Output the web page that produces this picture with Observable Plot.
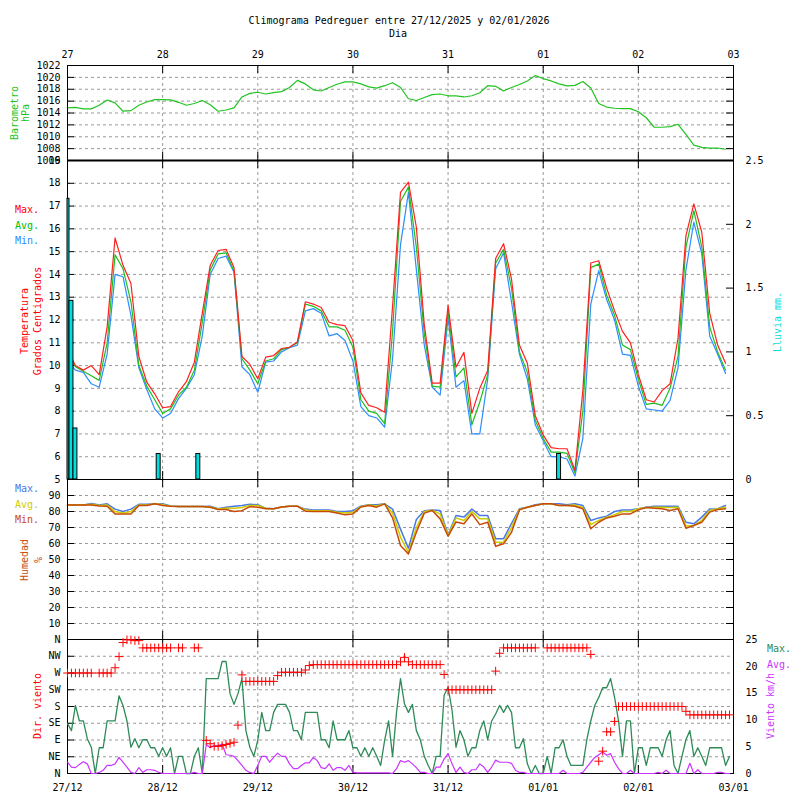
<!DOCTYPE html>
<html><head><meta charset="utf-8">
<script src="https://cdn.jsdelivr.net/npm/d3@7"></script>
<script src="https://cdn.jsdelivr.net/npm/@observablehq/plot@0.6"></script>
<style>
body{margin:0;background:#fff;}
#chart{position:relative;width:800px;height:800px;background:#fff;}
#chart svg{position:absolute;left:0;top:0;}
</style></head><body><div id="chart"></div>
<script>
// ---------- DATA ----------
const dayTicks = [0, 24, 48, 72, 96, 120, 144, 168];
const topLabels = ["27","28","29","30","31","01","02","03"];
const bottomLabels = ["27/12","28/12","29/12","30/12","31/12","01/01","02/01","03/01"];
const stepHours = 2; // sampling of pressure / temperature / humidity series

const pressure = [1014.85,1014.95,1014.7,1014.7,1015.3,1016.2,1015.7,1014.3,1014.4,1015.3,
1015.85,1016.25,1016.25,1016.2,1015.8,1015.3,1015.6,1016.1,1015.4,1014.3,
1014.5,1014.85,1016.7,1017.3,1017.5,1017.2,1017.44,1017.6,1018.3,1019.5,
1018.9,1017.9,1017.7,1018.3,1018.85,1019.25,1019.25,1018.9,1018.4,1018.2,
1018.6,1019.1,1018.3,1016.4,1016.1,1016.6,1017.1,1017.2,1016.9,1016.87,
1016.7,1016.9,1017.4,1018.6,1018.5,1017.7,1018.3,1018.8,1019.4,1020.3,
1019.8,1019.4,1018.9,1018.56,1018.65,1019.3,1018.2,1015.6,1015.0,1014.8,
1014.73,1014.73,1014.2,1013.2,1011.6,1011.6,1011.7,1012.1,1010.4,1008.6,
1008.2,1008.1,1008.1,1007.9];

const tempMax = [10.7,10.0,9.8,10.0,9.6,11.7,15.6,14.4,13.6,10.4,
9.27,8.76,8.15,8.2,8.85,9.3,10.15,12.3,14.4,15.05,
15.1,14.3,10.4,10.05,9.42,10.37,10.44,10.75,10.8,11.05,
12.8,12.7,12.55,11.9,11.8,11.75,11.1,8.8,8.25,8.15,
7.95,12.6,17.6,18.05,16.07,11.8,9.23,9.23,12.64,9.93,
10.58,7.9,9.0,9.78,14.7,15.35,13.8,10.9,10.1,7.8,
6.95,6.4,6.35,6.35,5.4,8.9,14.5,14.6,13.4,12.4,
11.5,11.0,9.6,8.5,8.4,8.9,9.2,11.2,15.7,17.1,
15.85,12.3,10.9,10.1];
const tempAvg = [10.45,9.95,9.75,9.55,9.35,11.0,14.86,14.25,12.8,10.0,
9.1,8.5,7.9,8.1,8.7,9.05,9.8,11.9,14.2,14.9,
14.95,14.15,10.3,9.8,9.2,10.2,10.3,10.7,10.8,11.0,
12.7,12.6,12.4,11.7,11.7,11.55,10.8,8.5,8.0,7.9,
7.45,11.5,17.2,17.83,15.2,11.4,9.1,9.05,12.4,9.5,
9.9,7.4,8.4,9.6,14.5,15.1,13.4,10.6,9.7,7.6,
6.8,6.2,6.2,6.15,5.3,8.0,14.3,14.45,13.1,12.2,
10.9,10.7,9.4,8.3,8.35,8.25,9.0,10.4,15.2,16.8,
15.2,11.7,10.6,9.8];
const tempMin = [10.2,9.8,9.7,9.2,9.05,10.5,14.0,13.9,12.2,9.9,
8.95,8.1,7.7,7.9,8.55,9.0,9.6,11.3,14.0,14.7,
14.8,14.1,9.95,9.6,8.83,10.15,10.2,10.6,10.78,10.9,
12.4,12.5,12.3,11.3,11.4,11.1,10.2,8.2,7.8,7.7,
7.3,10.3,15.3,17.6,14.2,10.9,9.05,8.7,12.1,9.05,
9.34,7.0,7.0,9.4,14.25,14.95,12.8,10.5,9.4,7.4,
6.7,6.0,6.0,5.9,5.15,6.8,12.7,14.17,12.9,12.0,
10.5,10.45,9.1,8.1,8.05,8.0,8.47,9.9,14.2,16.3,
14.9,11.3,10.5,9.65];

const rainHours = [0, 1, 2, 23, 33, 124];
const rainMm = [2.2, 1.4, 0.4, 0.2, 0.2, 0.2];

const humMax = [84,84,84,85,84,84.8,81.5,80,81.5,84.5,
84.5,84.8,84.8,83.5,83.1,83.1,83.1,83.1,83.3,81.8,
82.7,83.3,83.75,84.5,84.2,82,81.7,82.8,83.3,83.3,
81.5,81,81,81,80,80,80.5,83.3,84.2,84.2,
84.8,81.5,69,57,75,80.5,81,80.6,65.5,77.5,
76.5,81.5,77.5,77.5,63,63,72.5,81.7,82.7,84.2,
84.8,84.8,84.8,84.2,84.8,83.75,74.4,76,77.1,80,
81,81,81.7,82.7,83.3,83.3,83.3,83.3,73.3,72.3,
76.5,81.5,81.7,83.75];
const humAvg = [84,84,84,84.5,83.7,84,80,79,80,84,
84,84.8,84.3,83.3,83.1,83.1,83.1,83.1,82.8,81.5,
82,82.1,82.5,83.7,83.75,82,81.7,82.8,83.3,83.3,
81,80.5,80.5,80.5,79.5,79,79.5,83,84,83.5,
84.8,79,64,54.5,70,80,80.8,78.5,65,76,
74.4,80,75.4,75.4,60.8,60.8,70,81.3,82.7,83.7,
84.8,84.8,83.75,83.75,84,82.5,71.8,74.4,76.5,78,
80,80,81.7,82.5,82.7,82.7,82.5,82.7,71,71.25,
74.4,80.6,81.7,82.7];
const humMin = [84,84,84,84,83.5,83.3,78.5,78.5,78.5,83.7,
83.7,84.8,83.7,83.3,83.1,83.1,83.1,83.1,82.7,81.2,
81.3,80,80.5,83,82.7,81.7,81.7,82.8,83.3,83.3,
80.2,80,80,80,79,77.9,78.5,82.8,83.75,82.7,
84.8,76,58.75,53.5,67,79,80.6,75.4,64.5,73.5,
72.3,78.5,71.8,73.3,58.3,59.8,67,81,82.7,83.7,
84.8,84.8,83.75,83.75,83.3,81.7,69.2,73.3,76,77,
78.5,78.5,81,82.5,82,81.7,80.6,81.7,69.5,71.25,
73.3,79.6,81.3,81.7];

// hourly wind series (h = 0 .. 167)
const windMax = [9.3,8.0,12.7,9.8,9.8,6.5,4.9,0,4.8,4.8,
9.8,9.8,9.8,14.5,12.7,9.8,4.9,6.5,4.8,6.3,
6.3,4.8,4.8,3.2,4.8,3.2,4.8,0,3.2,3.2,
0,0,3.2,4.8,0,17.7,17.7,17.7,17.7,20.9,
20.9,14.9,12.9,14.9,17.7,8.0,4.9,3.2,6.2,11.4,
8.0,8.0,11.4,12.9,12.9,12.9,11.4,8.0,8.0,6.3,
11.4,11.4,11.4,11.4,6.3,6.3,4.8,9.8,6.3,6.3,
6.3,8.0,4.8,4.8,3.2,4.8,3.2,4.8,3.2,1.5,
6.2,9.8,3.2,11.4,17.7,13.0,11.4,12.9,8.0,6.3,
3.2,1.5,0,3.2,3.2,14.6,16.1,11.8,4.9,8.0,
6.3,3.2,4.8,4.8,8.0,9.8,6.3,9.8,11.1,12.7,
11.4,12.7,11.4,4.8,4.8,6.5,1.8,0,1.5,0,
0,3.2,0,4.8,4.8,6.3,3.2,1.5,1.5,1.5,
1.5,6.3,9.8,12.7,14.2,16.0,16.0,17.7,14.2,9.8,
3.2,9.8,9.8,0,4.8,4.8,1.5,4.8,4.8,4.8,
3.2,6.3,8.0,1.5,0,3.2,6.3,8.0,3.2,4.8,
3.2,1.5,4.8,4.8,4.8,4.8,1.5,3.2];
const windAvg = [2.1,1.2,1.1,1.7,2.2,1.8,0,0,0.2,0.6,
1.5,1.5,1.8,3.0,2.1,1.2,0.2,0,1.1,0.2,
0.7,0.7,0.6,0.2,0,0,0,0,0,0,
0,0,0.2,0,0,5.4,4.8,5.2,5.2,5.5,
3.5,3.4,3.2,2.4,1.5,0.6,0.2,0,1.5,3.2,
3.2,2.1,3.0,3.8,3.2,3.2,1.8,0.9,0.9,1.5,
2.0,2.0,3.0,2.4,1.1,0.9,1.8,0.6,1.1,1.1,
0.6,1.5,0.2,0.1,0.1,0.1,0.1,0.1,0.1,0.1,
0.1,0.1,0,0.9,2.4,2.1,2.4,1.8,1.1,0.2,
0.2,0,0,1.2,1.2,2.7,3.7,1.8,0.2,1.2,
0.2,0,0.7,0.7,1.8,1.2,0.2,1.2,2.5,2.1,
2.1,2.1,1.9,0.6,0.2,0.2,0,0,0,0,
0,0,0,0,0,0.6,0,0,0,0,
0.2,1.2,2.1,3.0,3.5,4.0,3.4,3.7,2.1,0.9,
0,0,0.6,0,0,0,0,0,0,0.2,
0,0.6,0,0,0,0,0,1.9,0,0.7,
0,0,0,0,0.2,0.2,0,0];
const windDir = [270,270,270,270,270,270,270,null,270,270,
270,270,284,314,352,359,359,357,357,337.5,
337.5,337.5,337.5,337.5,337.5,337.5,337.5,null,337.5,337.5,
null,null,337.5,337.5,null,89,80,73,73,75,
78,81,84,130,265,247.5,247.5,247.5,247.5,247.5,
247.5,247.5,247.5,263,272,272,272,272,272,272,
278,290,292.5,292.5,292.5,292.5,292.5,292.5,292.5,292.5,
292.5,292.5,292.5,292.5,292.5,292.5,292.5,292.5,292.5,292.5,
292.5,292.5,292.5,292.5,300,312,300,292.5,292.5,292.5,
292.5,292.5,292.5,292.5,292.5,266,225,225,225,225,
225,225,225,225,225,225,225,225,275,323,
337.5,337.5,337.5,337.5,337.5,337.5,337.5,337.5,337.5,null,
null,337.5,337.5,337.5,337.5,337.5,337.5,337.5,337.5,337.5,
337.5,337.5,320,null,33,60,112,112,140,180,
180,180,180,180,180,180,180,180,180,180,
180,180,180,180,180,180,167,157.5,157.5,157.5,
157.5,157.5,157.5,157.5,157.5,157.5,157.5,157.5];

const pressTicks = [1006,1008,1010,1012,1014,1016,1018,1020,1022];
const tempTicks = [5,6,7,8,9,10,11,12,13,14,15,16,17,18,19];
const rainTicks = [0,0.5,1,1.5,2,2.5];
const humTicks = [10,20,30,40,50,60,70,80,90];
const dirTicks = [0,45,90,135,180,225,270,315,360];
const dirLabels = ["N","NE","E","SE","S","SW","W","NW","N"];
const speedTicks = [0,5,10,15,20,25];

// ---------- LAYOUT ----------
const FONT = "'DejaVu Sans Mono', monospace";
const L = 67, R = 733, FW = R - L;
const P = {press:[65,160], temp:[160,479], hum:[479,639], wind:[639,773]};
const GRID = {stroke:"#9a9a9a", strokeDasharray:"3,3", strokeWidth:1};
const innerDays = dayTicks.slice(1, -1);

const s2 = arr => arr.map((v, i) => ({h: i * stepHours, v}));
const s1 = arr => arr.map((v, i) => ({h: i, v}));

function base(panel) {
  const [t, b] = P[panel];
  return {width: 800, height: 800, marginLeft: L, marginRight: 800 - R, marginTop: t, marginBottom: 800 - b,
    style: {fontFamily: FONT, fontSize: "10px", background: "transparent", overflow: "visible", color: "black"}};
}
function xOpt(axis) {
  const o = {domain: [0, 168], axis: axis || null, ticks: dayTicks, tickSize: 0, label: null};
  if (axis === "top") { o.tickFormat = d => topLabels[dayTicks.indexOf(d)]; o.tickPadding = 8; }
  if (axis === "bottom") { o.tickFormat = d => bottomLabels[dayTicks.indexOf(d)]; o.tickPadding = 10; }
  return o;
}
function dayMarks(panel) {
  const h = P[panel][1] - P[panel][0];
  return [
    Plot.ruleX(innerDays, {x: d => d, ...GRID}),
    Plot.tickX(innerDays, {x: d => d, insetBottom: h - 8, stroke: "black"}),
    Plot.tickX(innerDays, {x: d => d, insetTop: h - 8, stroke: "black"})
  ];
}
const tickL = vals => Plot.tickY(vals, {y: d => d, insetRight: FW - 7, stroke: "black"});
const tickR = vals => Plot.tickY(vals, {y: d => d, insetLeft: FW - 7, stroke: "black"});

const chart = document.getElementById("chart");
const add = svg => chart.appendChild(svg);

// Barometer
add(Plot.plot({
  ...base("press"),
  x: xOpt("top"),
  y: {domain: [1006, 1022], axis: "left", ticks: pressTicks, tickSize: 0, tickPadding: 7, label: null, tickFormat: d => String(d)},
  marks: [
    Plot.ruleY(pressTicks.slice(1, -1), GRID),
    ...dayMarks("press"),
    Plot.line(s2(pressure), {x: "h", y: "v", stroke: "#22c322", strokeWidth: 1.2}),
    tickL(pressTicks), tickR(pressTicks),
    Plot.frame({stroke: "black"})
  ]
}));

// Temperature
add(Plot.plot({
  ...base("temp"),
  x: xOpt(null),
  y: {domain: [5, 19], axis: "left", ticks: tempTicks, tickSize: 0, tickPadding: 7, label: null, tickFormat: d => String(d)},
  marks: [
    Plot.ruleY(tempTicks.slice(1, -1), GRID),
    ...dayMarks("temp"),
    Plot.line(s2(tempMin), {x: "h", y: "v", stroke: "#2d8cff", strokeWidth: 1.2}),
    Plot.line(s2(tempAvg), {x: "h", y: "v", stroke: "#1fbf1f", strokeWidth: 1.2}),
    Plot.line(s2(tempMax), {x: "h", y: "v", stroke: "#ff2020", strokeWidth: 1.2}),
    tickL(tempTicks),
    Plot.frame({stroke: "black"})
  ]
}));

// Rain (right axis, same frame as temperature)
const rainData = rainHours.map((h, i) => ({h, v: rainMm[i]}));
add(Plot.plot({
  ...base("temp"),
  x: xOpt(null),
  y: {domain: [0, 2.5], axis: "right", ticks: rainTicks, tickSize: 0, tickPadding: 12, tickFormat: d => String(d), label: null},
  marks: [
    Plot.rectY(rainData, {x1: d => Math.max(0, d.h - 0.5), x2: d => d.h + 0.5, y1: 0, y2: "v", fill: "#00dede", stroke: "black", strokeWidth: 1}),
    tickR(rainTicks),
    Plot.ruleY([d3.max(rainTicks)], {stroke: "black", strokeWidth: 2.2})
  ]
}));

// Humidity
add(Plot.plot({
  ...base("hum"),
  x: xOpt(null),
  y: {domain: [0, 100], axis: "left", ticks: humTicks, tickSize: 0, tickPadding: 7, label: null, tickFormat: d => String(d)},
  marks: [
    Plot.ruleY(humTicks, GRID),
    ...dayMarks("hum"),
    Plot.line(s2(humMax), {x: "h", y: "v", stroke: "#4a78e6", strokeWidth: 1.5}),
    Plot.line(s2(humAvg), {x: "h", y: "v", stroke: "#cccc00", strokeWidth: 1.5}),
    Plot.line(s2(humMin), {x: "h", y: "v", stroke: "#c84a08", strokeWidth: 1.5}),
    tickL(humTicks), tickR(humTicks),
    Plot.frame({stroke: "black"})
  ]
}));

// Wind direction
add(Plot.plot({
  ...base("wind"),
  x: xOpt("bottom"),
  y: {domain: [0, 360], axis: "left", ticks: dirTicks, tickSize: 0, tickPadding: 7, label: null,
      tickFormat: d => dirLabels[dirTicks.indexOf(d)]},
  marks: [
    Plot.ruleY(dirTicks.slice(1, -1), GRID),
    ...dayMarks("wind"),
    tickL(dirTicks),
    Plot.frame({stroke: "black"})
  ]
}));

// Wind speed (right axis)
add(Plot.plot({
  ...base("wind"),
  x: xOpt(null),
  y: {domain: [0, 25], axis: "right", ticks: speedTicks, tickSize: 0, tickPadding: 12, label: null, tickFormat: d => String(d)},
  marks: [
    Plot.line(s1(windMax), {x: "h", y: "v", stroke: "#2e8b57", strokeWidth: 1.3}),
    Plot.line(s1(windAvg), {x: "h", y: "v", stroke: "#cc33ff", strokeWidth: 1.2})
  ]
}));

// Wind direction crosses on top
add(Plot.plot({
  ...base("wind"),
  x: xOpt(null),
  y: {domain: [0, 360], axis: null},
  marks: [
    Plot.dot(s1(windDir).filter(d => d.v != null), {x: "h", y: "v", symbol: "plus", r: 2.9, stroke: "#ff0000", strokeWidth: 1})
  ]
}));

// ---------- TEXT ----------
const ov = d3.select(chart).append("svg").attr("width", 800).attr("height", 800)
  .style("font-family", FONT).style("font-size", "10px");
const plain = [
  ["Climograma Pedreguer entre 27/12/2025 y 02/01/2026", 399, 24, "#000", "middle"],
  ["Dia", 398, 37, "#000", "middle"],
  ["Max.", 15, 213, "#ff0000", "start"],
  ["Avg.", 15, 229, "#00c000", "start"],
  ["Min.", 15, 244, "#2d8cff", "start"],
  ["Max.", 15, 492, "#4a78e6", "start"],
  ["Avg.", 15, 508, "#cccc00", "start"],
  ["Min.", 15, 523, "#c84a08", "start"],
  ["Max.", 767, 652, "#2e8b57", "start"],
  ["Avg.", 767, 668, "#cc33ff", "start"]
];
plain.forEach(([s, x, y, c, a]) => ov.append("text").attr("x", x).attr("y", y).attr("fill", c).attr("text-anchor", a).text(s));
const rotated = [
  ["Barometro", 17.5, 113, "#22c322"],
  ["hPa", 29, 113, "#22c322"],
  ["Temperatura", 28, 321, "#ff0000"],
  ["Grados Centigrados", 40.6, 321, "#ff0000"],
  ["Lluvia mm.", 780.6, 322, "#00dede"],
  ["Humedad", 28, 560, "#c84a08"],
  ["%", 42, 560, "#c84a08"],
  ["Dir. viento", 40.6, 706, "#ff0000"],
  ["Viento km/h", 774, 706, "#cc33ff"]
];
rotated.forEach(([s, x, y, c]) => ov.append("text").attr("transform", `translate(${x},${y}) rotate(-90)`)
  .attr("fill", c).attr("text-anchor", "middle").text(s));
</script></body></html>
